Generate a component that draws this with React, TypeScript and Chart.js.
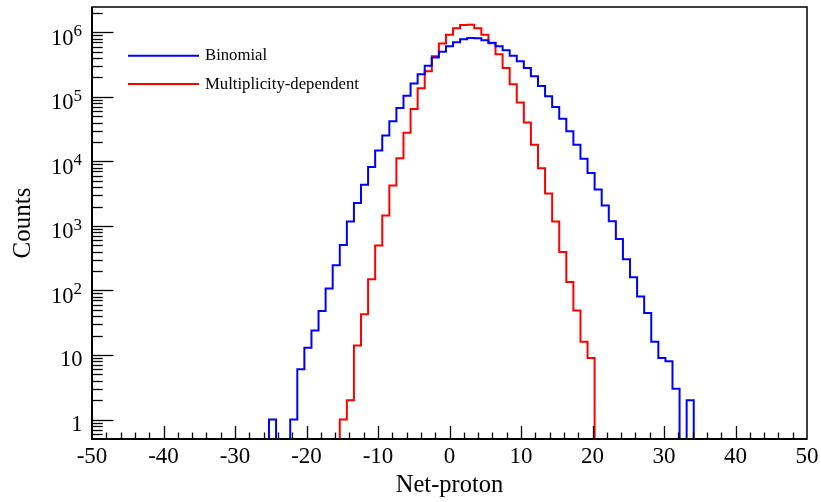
import React, { useEffect, useRef } from "react";
import { Chart, registerables } from "chart.js";

Chart.register(...registerables);

// ---- axis definition ----
const X_MIN = -50;
const X_MAX = 50;
const N_BINS = 101;
const Y_MIN = 0.5;
const Y_MAX = 2.47e6;

// ---- tick labels ----
const xTickValues = [-50, -40, -30, -20, -10, 0, 10, 20, 30, 40, 50];
const yTickExponents = [0, 1, 2, 3, 4, 5, 6];

// ---- titles / series ----
const xTitle = "Net-proton";
const yTitle = "Counts";
const seriesNames = ["Binomial", "Multiplicity-dependent"];
const seriesColors = ["#0000ff", "#ff0000"];

// ---- data: counts per integer net-proton bin ----
const binomialFirstBin = -25;
const binomialCounts = [
  1, 0, 0, 1, 6, 13, 24, 48, 107, 246, 505, 1175, 2260, 4340, 8160, 14700,
  25300, 42100, 67400, 104500, 160500, 225000, 305000, 406000, 502000, 607000,
  705000, 780000, 819000, 813000, 757000, 688000, 611000, 530000, 435000,
  358000, 279000, 208000, 148000, 102000, 69400, 45700, 29300, 18200, 11000,
  6640, 3660, 2070, 1180, 630, 306, 160, 81, 45, 16, 9, 8, 3, 0, 2,
];

const multFirstBin = -15;
const multCounts = [
  1, 2, 14, 43, 150, 500, 1450, 4220, 11170, 27900, 65000, 135800, 249000,
  425000, 673000, 921000, 1153000, 1294000, 1306000, 1153000, 921000, 676000,
  456000, 281000, 157000, 82000, 40200, 18200, 7870, 3170, 1170, 396, 136, 49,
  16, 9,
];

const FONT = "'Liberation Serif', 'Times New Roman', serif";

function histogramPoints(firstBin: number, counts: number[]) {
  const w = (X_MAX - X_MIN) / N_BINS;
  const half = Math.floor(N_BINS / 2);
  const pts: { x: number; y: number }[] = [];
  // one point per bin left edge (value held until next edge), plus closing point
  for (let i = 0; i < N_BINS; i++) {
    const k = i - half - firstBin;
    const c = k >= 0 && k < counts.length ? counts[k] : 0;
    pts.push({ x: X_MIN + i * w, y: c > 0 ? c : Y_MIN });
  }
  pts.push({ x: X_MAX, y: pts[pts.length - 1].y });
  return pts;
}

const rootFrame = {
  id: "rootFrame",
  afterDraw(chart: any) {
    const { ctx, chartArea: a, scales } = chart;
    ctx.save();
    ctx.strokeStyle = "#000";
    ctx.lineWidth = 1.3;
    const ys = scales.y;
    const w = a.right - a.left;
    const h = a.bottom - a.top;
    for (const t of ys.ticks) {
      const v = t.value;
      const e = Math.floor(Math.log10(v) + 1e-9);
      const m = v / Math.pow(10, e);
      const major = Math.abs(m - 1) < 1e-6;
      const len = (major ? 0.03 : 0.015) * w;
      const py = Math.round(ys.getPixelForValue(v)) + 0.5;
      if (py < a.top - 0.5 || py > a.bottom - 1) continue;
      ctx.beginPath();
      ctx.moveTo(a.left, py);
      ctx.lineTo(a.left + len, py);
      ctx.stroke();
    }
    const xs = scales.x;
    for (const t of xs.ticks) {
      const v = t.value;
      const major = Math.abs(v % 10) < 1e-9;
      const len = (major ? 0.03 : 0.015) * h;
      const px = Math.round(xs.getPixelForValue(v)) + 0.5;
      if (px < a.left + 1 || px > a.right - 1) continue;
      ctx.beginPath();
      ctx.moveTo(px, a.bottom);
      ctx.lineTo(px, a.bottom - len);
      ctx.stroke();
    }
    // frame
    ctx.lineWidth = 1.5;
    ctx.strokeRect(a.left, a.top, w, h);
    ctx.lineWidth = 2;
    ctx.beginPath();
    ctx.moveTo(a.left, a.top);
    ctx.lineTo(a.left, a.bottom);
    ctx.lineTo(a.right, a.bottom);
    ctx.stroke();

    // y tick labels: 1, 10, 10^n with raised exponent
    ctx.fillStyle = "#000";
    ctx.textBaseline = "alphabetic";
    for (const e of yTickExponents) {
      const py = ys.getPixelForValue(Math.pow(10, e));
      const right = a.left - 10;
      if (e <= 1) {
        ctx.font = `22.5px ${FONT}`;
        ctx.textAlign = "right";
        ctx.fillText(e === 0 ? "1" : "10", right + 0.5, py + 11.3);
      } else {
        const exp = String(e);
        ctx.font = `17px ${FONT}`;
        const ew = ctx.measureText(exp).width;
        ctx.textAlign = "left";
        ctx.fillText(exp, right - ew, py + 4);
        ctx.font = `22.5px ${FONT}`;
        ctx.textAlign = "right";
        ctx.fillText("10", right - ew, py + 12.3);
      }
    }

    // legend
    chart.data.datasets.forEach((ds: any, i: number) => {
      const y = 55.7 + i * 28.3;
      ctx.strokeStyle = ds.borderColor;
      ctx.lineWidth = 2;
      ctx.beginPath();
      ctx.moveTo(128, y);
      ctx.lineTo(199, y);
      ctx.stroke();
      ctx.fillStyle = "#000";
      ctx.font = `16.7px ${FONT}`;
      ctx.textBaseline = "alphabetic";
      ctx.textAlign = "left";
      ctx.fillText(ds.label, 205, y + 4.5);
    });
    ctx.restore();
  },
};

export default function App() {
  const ref = useRef<HTMLCanvasElement>(null);

  useEffect(() => {
    document.body.style.margin = "0";
    const canvas = ref.current;
    if (!canvas) return;
    const chart = new Chart(canvas, {
      type: "line",
      data: {
        datasets: [
          {
            label: seriesNames[0],
            data: histogramPoints(binomialFirstBin, binomialCounts),
            borderColor: seriesColors[0],
            backgroundColor: seriesColors[0],
            borderWidth: 2,
            pointRadius: 0,
            stepped: "before",
            fill: false,
          },
          {
            label: seriesNames[1],
            data: histogramPoints(multFirstBin, multCounts),
            borderColor: seriesColors[1],
            backgroundColor: seriesColors[1],
            borderWidth: 2,
            pointRadius: 0,
            stepped: "before",
            fill: false,
          },
        ],
      },
      options: {
        animation: false,
        responsive: true,
        maintainAspectRatio: false,
        events: [],
        layout: { padding: { top: 7, right: 14, left: 0, bottom: 0 } },
        plugins: {
          legend: { display: false },
          tooltip: { enabled: false },
        },
        scales: {
          x: {
            type: "linear",
            min: X_MIN,
            max: X_MAX,
            grid: { display: false, drawTicks: false },
            border: { display: false },
            ticks: {
              stepSize: 2,
              autoSkip: false,
              maxRotation: 0,
              minRotation: 0,
              padding: 4,
              color: "#000",
              font: { family: FONT, size: 23 },
              callback: (v: any) =>
                xTickValues.includes(Number(v)) ? String(v) : "",
            },
            title: {
              display: true,
              text: xTitle,
              color: "#000",
              font: { family: FONT, size: 24.5 },
              padding: { top: 0, bottom: 1.6 },
            },
            afterFit: (s: any) => {
              s.height = 63;
              s.paddingLeft = 0;
              s.paddingRight = 0;
            },
          },
          y: {
            type: "logarithmic",
            min: Y_MIN,
            max: Y_MAX,
            grid: { display: false, drawTicks: false },
            border: { display: false },
            afterBuildTicks: (scale: any) => {
              const ticks: { value: number }[] = [];
              for (let e = -1; e <= 6; e++) {
                for (let m = 1; m <= 9; m++) {
                  const v = m * Math.pow(10, e);
                  if (v >= Y_MIN && v <= Y_MAX) ticks.push({ value: v });
                }
              }
              scale.ticks = ticks;
            },
            ticks: {
              autoSkip: false,
              padding: 10,
              color: "#000",
              font: { family: FONT, size: 22 },
              callback: () => "",
            },
            title: {
              display: true,
              text: yTitle,
              color: "#000",
              font: { family: FONT, size: 25 },
              padding: { top: 8.3, bottom: 0 },
            },
            afterFit: (s: any) => {
              s.width = 92;
              s.paddingTop = 0;
              s.paddingBottom = 0;
            },
          },
        },
      },
      plugins: [rootFrame],
    });
    return () => chart.destroy();
  }, []);

  return (
    <div style={{ position: "absolute", left: 0, top: 0, width: 821, height: 502, background: "#fff" }}>
      <canvas ref={ref} />
    </div>
  );
}
